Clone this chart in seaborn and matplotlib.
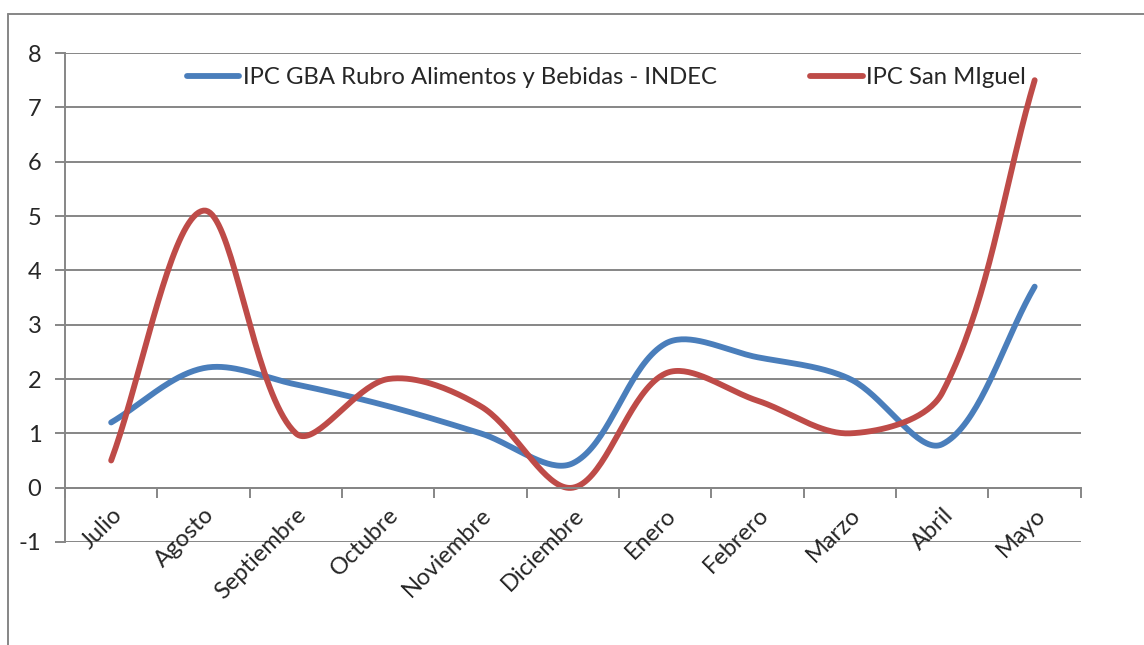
import numpy as np
import pandas as pd
import seaborn as sns
import matplotlib.pyplot as plt
from matplotlib.lines import Line2D

# Data
meses = ["Julio", "Agosto", "Septiembre", "Octubre", "Noviembre", "Diciembre",
         "Enero", "Febrero", "Marzo", "Abril", "Mayo"]
ipc_indec = [1.2, 2.2, 1.9, 1.5, 1.0, 0.45, 2.65, 2.4, 2.0, 0.8, 3.7]
ipc_san_miguel = [0.5, 5.1, 1.0, 2.0, 1.5, 0.0, 2.1, 1.6, 1.0, 1.75, 7.5]

serie_1 = "IPC GBA Rubro Alimentos y Bebidas - INDEC"
serie_2 = "IPC San MIguel"


# Excel-like smoothed line: Bezier through every point, control points
# scaled by chord lengths (measured in screen-ish units)
def smooth(values, steps=40, sx=92.4, sy=54.3):
    y = np.asarray(values, dtype=float) * sy
    x = np.arange(len(y), dtype=float) * sx
    P = np.column_stack([x, y])
    P = np.vstack([P[0], P, P[-1]])
    t = np.linspace(0, 1, steps)[:, None]
    pts = []
    for i in range(1, len(P) - 2):
        p0, p1, p2, p3 = P[i - 1], P[i], P[i + 1], P[i + 2]
        d01 = np.hypot(*(p1 - p0))
        d12 = np.hypot(*(p2 - p1))
        d23 = np.hypot(*(p3 - p2))
        c1 = p1 + (p2 - p0) * d12 / (d01 + d12) / 3
        c2 = p2 - (p3 - p1) * d12 / (d12 + d23) / 3
        b = ((1 - t) ** 3 * p1 + 3 * (1 - t) ** 2 * t * c1
             + 3 * (1 - t) * t ** 2 * c2 + t ** 3 * p2)
        pts.append(b)
    pts = np.vstack(pts)
    return pts[:, 0] / sx, pts[:, 1] / sy


frames = []
for name, vals in ((serie_1, ipc_indec), (serie_2, ipc_san_miguel)):
    cx, cy = smooth(vals)
    frames.append(pd.DataFrame({"x": cx, "y": cy, "serie": name}))
df = pd.concat(frames, ignore_index=True)

sns.set_style("white")
plt.rcParams["font.family"] = ["Lato", "DejaVu Sans"]
plt.rcParams["axes.unicode_minus"] = False

fig = plt.figure(figsize=(11.44, 6.45), dpi=100)
ax = fig.add_axes([0.0568, 0.1597, 0.888, 0.7581])

grid_c = "#868686"
for v in range(-1, 9):
    ax.axhline(v, color=grid_c, lw=1.4, zorder=0)

sns.lineplot(data=df, x="x", y="y", hue="serie", sort=False, estimator=None,
             palette=["#4A7EBB", "#BE4B48"], lw=4.2, ax=ax,
             solid_capstyle="round")

ax.set_xlim(-0.5, len(meses) - 0.5)
ax.set_ylim(-1, 8)
ax.set_yticks(range(-1, 9))
ax.tick_params(axis="y", labelsize=17, length=7, width=1.4, color=grid_c,
               pad=10, left=True)

# x axis sits on y = 0, with tick marks between categories
ax.spines["bottom"].set_position(("data", 0))
ax.set_xticks(range(len(meses)))
ax.set_xticklabels(meses, rotation=45, ha="right", va="top",
                   rotation_mode="anchor", fontsize=17)
ax.tick_params(axis="x", which="major", length=0, pad=12)
ax.set_xticks(np.arange(-0.5, len(meses)), minor=True)
ax.tick_params(axis="x", which="minor", length=7, width=1.4, color=grid_c,
               bottom=True)

for s in ["top", "right"]:
    ax.spines[s].set_visible(False)
for s in ["left", "bottom"]:
    ax.spines[s].set_color(grid_c)
    ax.spines[s].set_linewidth(1.4)
ax.set_xlabel("")
ax.set_ylabel("")

leg = ax.legend(loc="upper center", bbox_to_anchor=(0.533, 1.015), ncol=2,
                frameon=False, fontsize=17.2, handlelength=2.2,
                handletextpad=0.15, columnspacing=3.9)
for h in leg.get_lines():
    h.set_linewidth(4.2)
    h.set_solid_capstyle("round")

# Outer chart frame
fig.add_artist(Line2D([0.007, 0.007], [0, 0.978], color=grid_c, lw=1.4))
fig.add_artist(Line2D([0.007, 1.0], [0.978, 0.978], color=grid_c, lw=1.4))

fig.savefig("out.png", dpi=100)
